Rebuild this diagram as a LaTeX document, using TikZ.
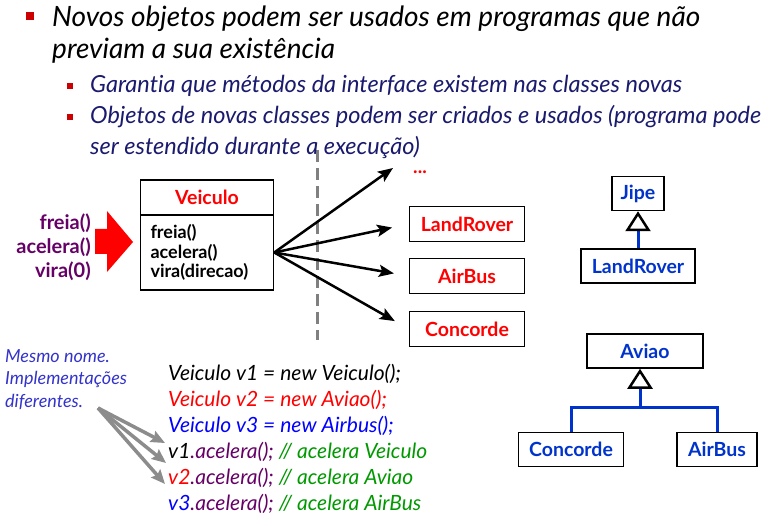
\documentclass[tikz,border=0pt]{standalone}
\usepackage{fontspec}
\setmainfont{Lato}[Ligatures=NoCommon]
\usetikzlibrary{arrows.meta}
\definecolor{navy}{HTML}{1A1A6E}
\definecolor{bulletred}{HTML}{CC0000}
\definecolor{purp}{HTML}{660066}
\definecolor{umlblue}{HTML}{0033CC}
\definecolor{codeblue}{HTML}{0000FF}
\definecolor{codegreen}{HTML}{009900}
\definecolor{notegray}{HTML}{8C8C8C}
\definecolor{noteblue}{HTML}{3333CC}
\definecolor{dashgray}{HTML}{808080}
\tikzset{
  bullet/.style={fill=bulletred, minimum size=#1, inner sep=0pt},
  title/.style={anchor=base west, inner sep=0pt, font=\fontsize{28}{28}\selectfont\itshape},
  sub/.style={anchor=base west, inner sep=0pt, text=navy, font=\fontsize{23.5}{24}\selectfont\itshape},
  cls/.style={draw, line width=1.5pt, inner sep=0pt, font=\fontsize{19.5}{19.5}\selectfont\bfseries},
  redbox/.style={cls, text=red, minimum width=115pt, minimum height=35pt},
  bluebox/.style={cls, text=umlblue, minimum height=34pt},
  fan/.style={line width=2.5pt, -{Stealth[length=15pt,width=12pt,inset=3pt]}},
  tree/.style={umlblue, line width=3pt},
  inh/.style={-{Triangle[length=20pt,width=25pt,color=black,fill=white,line width=2.5pt]}},
  code/.style={anchor=base west, inner sep=0pt, font=\fontsize{21}{21}\selectfont\itshape},
  pointer/.style={notegray, line width=3.5pt, -{Stealth[length=14pt,width=12pt,inset=2pt]}}
}
\begin{document}
\begin{tikzpicture}[x=1pt,y=-1pt]
  \fill[white](0,0)rectangle(783,526);

  \coordinate(dtop)at(317,150);
  \coordinate(dbot)at(317,340);
  \draw[dashgray, line width=3pt, dash pattern=on 12pt off 6pt](dtop)--(dbot);

  \node[bullet=8pt](b1)at(30,16){};
  \node[title](t1)at(52,27){Novos objetos podem ser usados em programas que não};
  \node[title](t2)at(52,59){previam a sua existência};
  \node[bullet=6pt](b2)at(70,86){};
  \node[sub](s1)at(90,93){Garantia que métodos da interface existem nas classes novas};
  \node[bullet=6pt](b3)at(70,117){};
  \node[sub](s2)at(90,124){Objetos de novas classes podem ser criados e usados (programa pode};
  \node[sub](s3)at(90,155){ser estendido durante a execução)};

  \node[anchor=east, align=right, inner sep=0pt, text=purp, font=\fontsize{20}{24}\selectfont\bfseries](calls)at(91,247){freia()\\acelera()\\vira(0)};
  \fill[red](95,229)--(107,229)--(107,211)--(133,242)--(107,272)--(107,254)--(95,254)--cycle;

  \node[cls, text=red, minimum width=133pt, minimum height=35pt](vhead)at(207,197.5){Veiculo};
  \node[cls, minimum width=133pt, minimum height=75pt, inner xsep=10pt, text width=113pt, align=left, font=\fontsize{18}{19.5}\selectfont\bfseries](vbody)at(207,252.5){freia()\\acelera()\\vira(direcao)};

  \node[redbox](land)at(467,224){LandRover};
  \node[redbox](air)at(467,276){AirBus};
  \node[redbox](conc)at(467,329){Concorde};
  \node[text=red, font=\fontsize{19}{19}\selectfont\bfseries](dots)at(420,172){...};
  \coordinate(more)at(393,168);

  \draw[fan](vbody.east)--(more);
  \draw[fan, shorten >=17pt](vbody.east)--(land.west);
  \draw[fan, shorten >=15pt](vbody.east)--(air.west);
  \draw[fan, shorten >=16pt](vbody.east)--(conc.west);

  \node[bluebox, minimum width=52pt](jipe)at(638,193.5){Jipe};
  \node[bluebox, minimum width=114pt](land2)at(638,266){LandRover};
  \draw[tree, inh](land2.north)--(jipe.south);

  \node[bluebox, minimum width=116pt](aviao)at(645,351){Aviao};
  \node[bluebox, minimum width=105pt](conc2)at(571,449.5){Concorde};
  \node[bluebox, minimum width=80pt](air2)at(717,449.5){AirBus};
  \coordinate(fork)at(640,407);
  \draw[tree](conc2.north)|-(fork)-|(air2.north);
  \draw[tree, inh](fork)--(fork|-aviao.south);

  \node[anchor=north west, align=left, inner sep=0pt, text=noteblue, font=\fontsize{18}{22.5}\selectfont\itshape](note)at(5,349){Mesmo nome.\\Implementações\\diferentes.};

  \node[code](c1)at(168,380){Veiculo v1 = new Veiculo();};
  \node[code, text=red](c2)at(168,406){Veiculo v2 = new Aviao();};
  \node[code, text=codeblue](c3)at(168,432){Veiculo v3 = new Airbus();};
  \node[code](c4)at(168,458){v1\textcolor{purp}{.acelera();} \textcolor{codegreen}{// acelera Veiculo}};
  \node[code](c5)at(168,484){\textcolor{red}{v2}\textcolor{purp}{.acelera();} \textcolor{codegreen}{// acelera Aviao}};
  \node[code](c6)at(168,510){\textcolor{codeblue}{v3}\textcolor{purp}{.acelera();} \textcolor{codegreen}{// acelera AirBus}};

  \coordinate(from)at(98,408);
  \coordinate(to1)at(165,443);
  \coordinate(to2)at(166,463);
  \coordinate(to3)at(165,484);
  \draw[pointer](from)--(to1);
  \draw[pointer](from)--(to2);
  \draw[pointer](from)--(to3);
\end{tikzpicture}
\end{document}
